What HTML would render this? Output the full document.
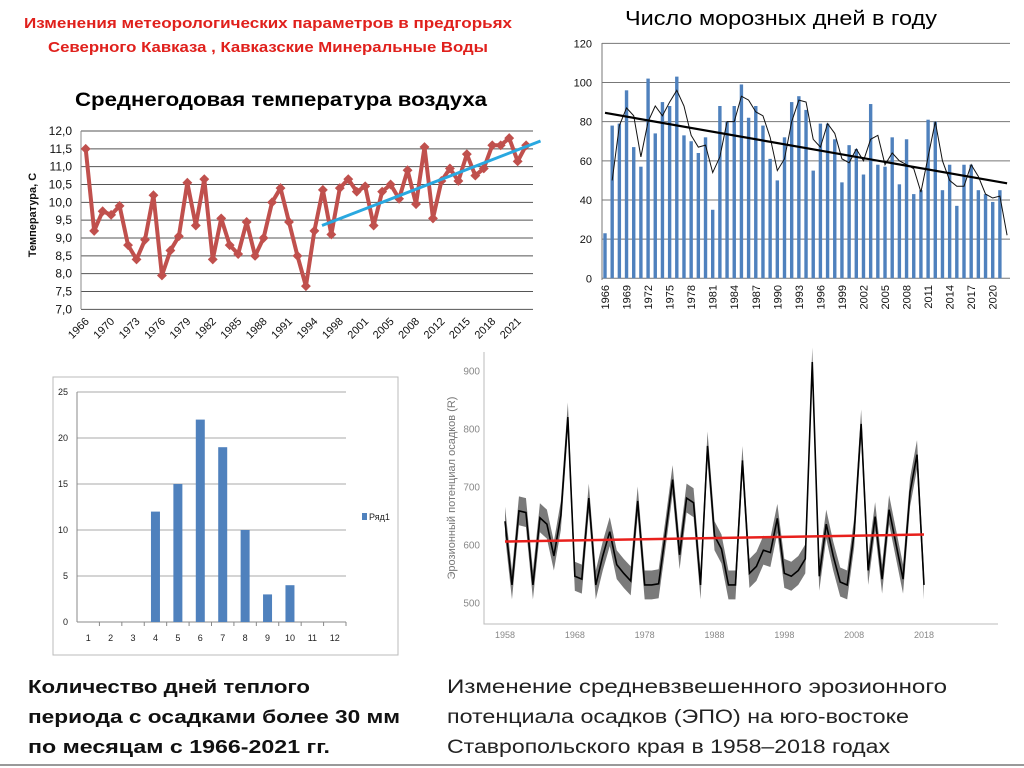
<!DOCTYPE html>
<html><head><meta charset="utf-8"><style>
html,body{margin:0;padding:0;background:#fff;width:1024px;height:768px;overflow:hidden}
svg{display:block;font-family:"Liberation Sans","Noto Sans CJK SC",sans-serif}
</style></head><body>
<svg id="s" width="1024" height="768" viewBox="0 0 1024 768">
<text x="268" y="28" text-anchor="middle" font-size="15" font-weight="bold" fill="#e0201c" textLength="488" lengthAdjust="spacingAndGlyphs">Изменения метеорологических параметров в предгорьях</text>
<text x="268" y="52" text-anchor="middle" font-size="15" font-weight="bold" fill="#e0201c" textLength="440" lengthAdjust="spacingAndGlyphs">Северного Кавказа , Кавказские Минеральные Воды</text>
<text x="75" y="106" font-size="19" font-weight="bold" fill="#000" textLength="412" lengthAdjust="spacingAndGlyphs">Среднегодовая температура воздуха</text>
<text x="625" y="25" font-size="20" fill="#000" textLength="312" lengthAdjust="spacingAndGlyphs">Число морозных дней в году</text>
<g id="g1"></g>
<g id="g2"></g>
<g id="g3"></g>
<g id="g4"></g>
<g font-size="18" font-weight="bold" fill="#111">
<text x="28" y="693" textLength="282" lengthAdjust="spacingAndGlyphs">Количество дней теплого</text>
<text x="28" y="723" textLength="372" lengthAdjust="spacingAndGlyphs">периода с осадками более 30 мм</text>
<text x="28" y="753" textLength="302" lengthAdjust="spacingAndGlyphs">по месяцам с 1966-2021 гг.</text>
</g>
<g font-size="19" fill="#222">
<text x="447" y="693" textLength="500" lengthAdjust="spacingAndGlyphs">Изменение средневзвешенного эрозионного</text>
<text x="447" y="723" textLength="462" lengthAdjust="spacingAndGlyphs">потенциала осадков (ЭПО) на юго-востоке</text>
<text x="447" y="753" textLength="443" lengthAdjust="spacingAndGlyphs">Ставропольского края в 1958–2018 годах</text>
</g>
<line x1="0" y1="765" x2="1024" y2="765" stroke="#999" stroke-width="2"/>
</svg>
<script>
// ---- temperature chart data
const tempValues=[11.5,9.2,9.75,9.65,9.9,8.8,8.4,8.95,10.2,7.95,8.65,9.05,10.55,9.35,10.65,8.4,9.55,8.8,8.55,9.45,8.5,9.0,10.0,10.4,9.45,8.5,7.65,9.2,10.35,9.1,10.4,10.65,10.3,10.45,9.35,10.3,10.5,10.1,10.9,9.95,11.55,9.55,10.6,10.95,10.6,11.35,10.75,10.95,11.6,11.6,11.8,11.15,11.6];
const tempLabels=["1966","1970","1973","1976","1979","1982","1985","1988","1991","1994","1998","2001","2005","2008","2012","2015","2018","2021"];
const tempTicks=[7,7.5,8,8.5,9,9.5,10,10.5,11,11.5,12];
const tempTrendIdx=[27.9,53.7];
const tempTrendVal=[9.35,11.72];
// ---- frost chart data
const frostBars=[23,78,79,96,67,57,102,74,90,88,103,73,70,64,72,35,88,80,88,99,82,88,78,61,50,72,90,93,86,55,79,79,71,49,68,66,53,89,58,57,72,48,71,43,45,81,80,45,58,37,58,58,45,43,39,45];
const frostLabels=["1966","1969","1972","1975","1978","1981","1984","1987","1990","1993","1996","1999","2002","2005","2008","2011","2014","2017","2020"];
const frostAvg=[50,78,87,83,62,80,88,83,90,96,88,73,67,68,54,62,80,80,93,91,85,83,72,55,61,80,91,90,71,67,79,74,61,59,66,60,71,73,58,64,60,58,56,44,62,80,60,50,47,47,58,52,43,41,42,22];
const frostTrend=[84.5,48.5];
const frostTicks=[0,20,40,60,80,100,120];
// ---- rain days data
const months=["1","2","3","4","5","6","7","8","9","10","11","12"];
const rainDays=[0,0,0,12,15,22,19,10,3,4,0,0];
const rainTicks=[0,5,10,15,20,25];
// ---- erosion data
const eroYears=[];for(let y=1958;y<=2018;y++)eroYears.push(y);
const eroValues=[640,530,658,655,530,646,635,580,650,820,545,540,680,530,580,622,565,550,537,675,530,530,532,620,712,582,680,672,530,770,615,592,530,530,745,550,562,590,586,645,550,545,555,575,915,545,635,580,535,530,620,808,555,648,540,660,600,540,690,755,530];
const eroTrend=[605,617];
const eroTicks=[500,600,700,800,900];
const eroXTicks=[1958,1968,1978,1988,1998,2008,2018];

const NS="http://www.w3.org/2000/svg";
function mk(p,t,a,txt){const e=document.createElementNS(NS,t);for(const k in a)e.setAttribute(k,a[k]);if(txt!==undefined)e.textContent=txt;p.appendChild(e);return e;}

// ===== Chart 1
(function(){
const g=document.getElementById('g1');
const x=i=>85.7+i*8.47, y=v=>131+(12-v)*35.67;
tempTicks.forEach(t=>{const l=mk(g,'line',{x1:81,x2:533,y1:y(t),y2:y(t),stroke:'#555','stroke-width':1});


const tx=mk(g,'text',{x:72,y:y(t)+4,'text-anchor':'end','font-size':12,fill:'#111'},t.toFixed(1).replace('.',','));

});
const ax=mk(g,'line',{x1:81,x2:81,y1:131,y2:309,stroke:'#888'});


tempLabels.forEach((s,k)=>{const xx=x(k*3);const t=mk(g,'text',{x:xx+4,y:322,'text-anchor':'end','font-size':11,fill:'#111',transform:`rotate(-45 ${xx+4} 322)`},s);

});
const yl=mk(g,'text',{x:36,y:215,'text-anchor':'middle','font-size':11,'font-weight':'bold',fill:'#111',transform:'rotate(-90 36 215)'},'Температура, С');


const pl=mk(g,'polyline',{points:tempValues.map((v,i)=>x(i)+','+y(v)).join(' '),fill:'none',stroke:'#c0504d','stroke-width':4,'stroke-linejoin':'round'});


tempValues.forEach((v,i)=>{const d=mk(g,'rect',{x:x(i)-3.5,y:y(v)-3.5,width:7,height:7,fill:'#c0504d',transform:`rotate(45 ${x(i)} ${y(v)})`});

});
const tr=mk(g,'line',{x1:x(tempTrendIdx[0]),y1:y(tempTrendVal[0]),x2:x(tempTrendIdx[1]),y2:y(tempTrendVal[1]),stroke:'#29a8e0','stroke-width':3});


})();

// ===== Chart 2
(function(){
const g=document.getElementById('g2');
const x=i=>605+i*7.18, y=v=>278.3-v*1.958;
frostTicks.forEach(t=>{const l=mk(g,'line',{x1:602,x2:1010,y1:y(t),y2:y(t),stroke:'#777','stroke-width':1});


const tx=mk(g,'text',{x:592,y:y(t)+4,'text-anchor':'end','font-size':11,fill:'#111'},t);

});
const ax=mk(g,'line',{x1:602,x2:602,y1:43,y2:280,stroke:'#777'});


frostBars.forEach((v,i)=>{const r=mk(g,'rect',{x:x(i)-1.7,y:y(v),width:3.4,height:v*1.958,fill:'#4f81bd'});

});
frostLabels.forEach((s,k)=>{const xx=x(k*3)+4;const t=mk(g,'text',{x:xx,y:285,'text-anchor':'end','font-size':11,fill:'#111',transform:`rotate(-90 ${xx} 285)`},s);

});
const pl=mk(g,'polyline',{points:frostAvg.map((v,i)=>x(i+1)+','+y(v)).join(' '),fill:'none',stroke:'#111','stroke-width':1});


const tr=mk(g,'line',{x1:x(0),y1:y(frostTrend[0]),x2:x(56),y2:y(frostTrend[1]),stroke:'#000','stroke-width':2.2});


})();

// ===== Chart 3
(function(){
const g=document.getElementById('g3');
const fr=mk(g,'rect',{x:53,y:377,width:345,height:278,fill:'#fff',stroke:'#bbb'});


const w=(346-77)/12, x=i=>77+w*(i+0.5), y=v=>622-v*9.2;
rainTicks.forEach(t=>{const l=mk(g,'line',{x1:77,x2:346,y1:y(t),y2:y(t),stroke:t?'#aaa':'#888'});


const tx=mk(g,'text',{x:68,y:y(t)+3,'text-anchor':'end','font-size':9,fill:'#222'},t);

});
const ax=mk(g,'line',{x1:77,x2:77,y1:392,y2:622,stroke:'#888'});


months.forEach((m,i)=>{const t=mk(g,'text',{x:x(i),y:641,'text-anchor':'middle','font-size':9,fill:'#222'},m);


const tk=mk(g,'line',{x1:77+w*(i+1),x2:77+w*(i+1),y1:622,y2:626,stroke:'#888'});

});
rainDays.forEach((v,i)=>{if(!v)return;const r=mk(g,'rect',{x:x(i)-4.5,y:y(v),width:9,height:v*9.2,fill:'#4f81bd'});

});
const lg=mk(g,'rect',{x:362,y:513,width:5,height:7,fill:'#4f81bd'});


const lt=mk(g,'text',{x:369,y:520,'font-size':9,fill:'#222'},'Ряд1');


})();

// ===== Chart 4
(function(){
const g=document.getElementById('g4');
const x=yr=>505+(yr-1958)*(419/60), y=v=>602.3-(v-500)*0.579;
const ax=mk(g,'path',{d:'M484 352 V624 H998',fill:'none',stroke:'#bbb'});


eroTicks.forEach(t=>{const tx=mk(g,'text',{x:480,y:y(t)+4,'text-anchor':'end','font-size':10,fill:'#888'},t);

});
eroXTicks.forEach(t=>{const tx=mk(g,'text',{x:x(t),y:638,'text-anchor':'middle','font-size':9,fill:'#888'},t);

});
const yl=mk(g,'text',{x:455,y:488,'text-anchor':'middle','font-size':11,fill:'#777',transform:'rotate(-90 455 488)'},'Эрозионный потенциал осадков (R)');


const up=eroValues.map((v,i)=>x(eroYears[i])+','+y(v+25));
const dn=eroValues.map((v,i)=>x(eroYears[i])+','+y(v-25)).reverse();
const band=mk(g,'polygon',{points:up.concat(dn).join(' '),fill:'#7a7a7a'});


const pl=mk(g,'polyline',{points:eroValues.map((v,i)=>x(eroYears[i])+','+y(v)).join(' '),fill:'none',stroke:'#000','stroke-width':1.6});


const tr=mk(g,'line',{x1:x(1958),y1:y(eroTrend[0]),x2:x(2018),y2:y(eroTrend[1]),stroke:'#e8201c','stroke-width':2.5});


})();
</script>
</body></html>
